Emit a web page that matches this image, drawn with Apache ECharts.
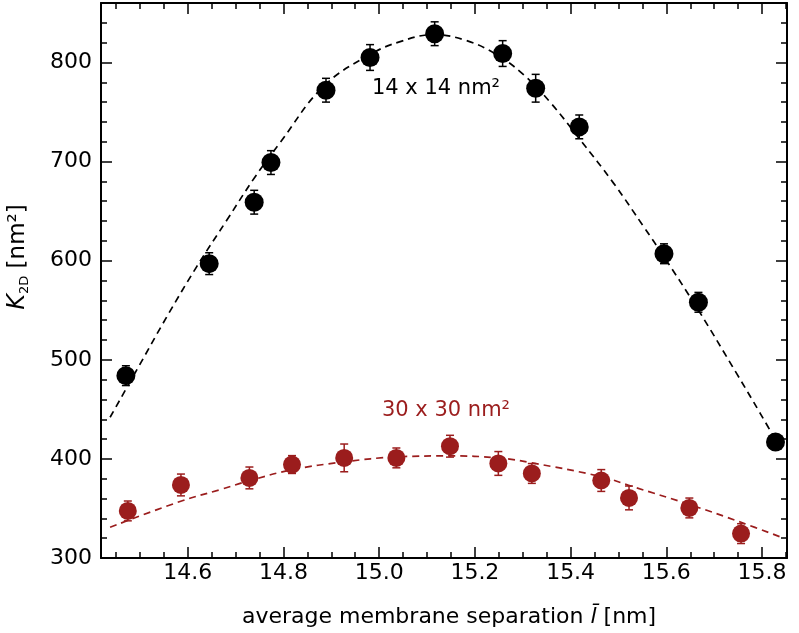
<!DOCTYPE html>
<html><head><meta charset="utf-8">
<script src="https://cdn.jsdelivr.net/npm/echarts@6/dist/echarts.min.js"></script>
<style>html,body{margin:0;padding:0;background:#fff}#c{width:799px;height:633px}</style>
</head><body><div id="c"></div>
<script>
// ---- data ----
const blackX   = [14.471, 14.645, 14.739, 14.774, 14.889, 14.981, 15.116, 15.258, 15.327, 15.418, 15.595, 15.667, 15.828];
const blackY   = [484, 597, 659, 699, 772, 805, 829, 809, 774, 735, 607, 558, 417];
const blackErr = [10, 11, 12, 12, 12, 13, 12, 13, 14, 12, 10, 10, 5];

const redX   = [14.475, 14.586, 14.729, 14.818, 14.927, 15.036, 15.148, 15.249, 15.319, 15.464, 15.522, 15.648, 15.756];
const redY   = [347.5, 373.7, 380.8, 394.3, 401, 401, 412.8, 395.4, 385.3, 378.2, 360.6, 350.5, 324.6];
const redErr = [10, 11, 11, 9, 14, 10, 11, 12, 10, 11, 12, 10, 10];

const blackFitX = [14.438, 14.494, 14.556, 14.619, 14.682, 14.740, 14.793, 14.884, 14.981, 15.044, 15.113, 15.183, 15.245, 15.301, 15.357, 15.420, 15.490, 15.553, 15.595, 15.667, 15.747, 15.796, 15.845];
const blackFitY = [442, 490, 543, 594, 641, 684, 719, 776, 808, 821, 828, 822, 808, 788, 760, 722, 678, 634, 604, 550, 486, 446, 405];

const redFitX = [14.438, 14.584, 14.668, 14.729, 14.818, 14.927, 15.037, 15.148, 15.249, 15.319, 15.464, 15.530, 15.648, 15.756, 15.845];
const redFitY = [331, 357, 369, 378, 389, 397, 402, 403, 401, 396, 382, 372, 354, 336, 320];

const xMajorTicks = [14.6, 14.8, 15.0, 15.2, 15.4, 15.6, 15.8];
const xMinorTicks = [14.45, 14.5, 14.55, 14.65, 14.7, 14.75, 14.85, 14.9, 14.95, 15.05, 15.1, 15.15, 15.25, 15.3, 15.35, 15.45, 15.5, 15.55, 15.65, 15.7, 15.75, 15.85];
const yMajorTicks = [300, 400, 500, 600, 700, 800];
const yMinorTicks = [320, 340, 360, 380, 420, 440, 460, 480, 520, 540, 560, 580, 620, 640, 660, 680, 720, 740, 760, 780, 820, 840];

const X_MIN = 14.419, X_MAX = 15.852, Y_MIN = 300, Y_MAX = 860;
const BLACK = '#000000', RED = '#9b1d1d';
const FONT = 'DejaVu Sans';

function xAx(pos, vals, len, showLabel, showLine) {
  return {
    type: 'value', position: pos, min: X_MIN, max: X_MAX, gridIndex: 0,
    axisLine: { show: showLine, onZero: false, lineStyle: { color: '#000', width: 2 } },
    axisTick: { show: true, inside: true, length: len, customValues: vals, lineStyle: { color: '#000', width: 1.5 } },
    axisLabel: { show: showLabel, customValues: vals, margin: 4, color: '#000', fontFamily: FONT, fontSize: 22,
      formatter: v => Number(v).toFixed(1) },
    splitLine: { show: false }
  };
}
function yAx(pos, vals, len, showLabel, showLine) {
  return {
    type: 'value', position: pos, min: Y_MIN, max: Y_MAX, gridIndex: 0,
    axisLine: { show: showLine, onZero: false, lineStyle: { color: '#000', width: 2 } },
    axisTick: { show: true, inside: true, length: len, customValues: vals, lineStyle: { color: '#000', width: 1.5 } },
    axisLabel: { show: showLabel, customValues: vals, margin: 9, color: '#000', fontFamily: FONT, fontSize: 22,
      formatter: v => String(Math.round(v)) },
    splitLine: { show: false }
  };
}

function errSeries(xs, ys, es, color) {
  return {
    type: 'custom', xAxisIndex: 0, yAxisIndex: 0, z: 3,
    data: xs.map((x, i) => [x, ys[i], es[i]]),
    renderItem: function (params, api) {
      const x = api.value(0), y = api.value(1), e = api.value(2);
      const t = api.coord([x, y + e]), b = api.coord([x, y - e]);
      const hw = 4;
      const st = { stroke: color, lineWidth: 1.5 };
      return { type: 'group', children: [
        { type: 'line', shape: { x1: t[0], y1: t[1], x2: b[0], y2: b[1] }, style: st },
        { type: 'line', shape: { x1: t[0] - hw, y1: t[1], x2: t[0] + hw, y2: t[1] }, style: st },
        { type: 'line', shape: { x1: b[0] - hw, y1: b[1], x2: b[0] + hw, y2: b[1] }, style: st }
      ]};
    }
  };
}

const chart = echarts.init(document.getElementById('c'), null, { renderer: 'canvas' });
chart.setOption({
  backgroundColor: '#fff',
  animation: false,
  grid: { left: 101, right: 12, top: 3, bottom: 75, containLabel: false },
  xAxis: [
    xAx('bottom', xMajorTicks, 11, true, true),
    xAx('bottom', xMinorTicks, 6, false, false),
    xAx('top', xMajorTicks, 11, false, true),
    xAx('top', xMinorTicks, 6, false, false)
  ],
  yAxis: [
    yAx('left', yMajorTicks, 11, true, true),
    yAx('left', yMinorTicks, 6, false, false),
    yAx('right', yMajorTicks, 11, false, true),
    yAx('right', yMinorTicks, 6, false, false)
  ],
  series: [
    { type: 'line', xAxisIndex: 0, yAxisIndex: 0, data: blackFitX.map((x, i) => [x, blackFitY[i]]),
      smooth: 0.4, symbol: 'none', lineStyle: { color: BLACK, width: 1.7, type: [7, 5] }, z: 2 },
    { type: 'line', xAxisIndex: 0, yAxisIndex: 0, data: redFitX.map((x, i) => [x, redFitY[i]]),
      smooth: 0.4, symbol: 'none', lineStyle: { color: RED, width: 1.7, type: [7, 5] }, z: 2 },
    errSeries(blackX, blackY, blackErr, BLACK),
    errSeries(redX, redY, redErr, RED),
    { type: 'scatter', xAxisIndex: 0, yAxisIndex: 0, data: blackX.map((x, i) => [x, blackY[i]]),
      symbol: 'circle', symbolSize: 19, itemStyle: { color: BLACK, opacity: 1 }, z: 4 },
    { type: 'scatter', xAxisIndex: 0, yAxisIndex: 0, data: redX.map((x, i) => [x, redY[i]]),
      symbol: 'circle', symbolSize: 18, itemStyle: { color: RED, opacity: 1 }, z: 4 }
  ],
  graphic: [
    { type: 'text', x: 436, y: 89, z: 10,
      style: { text: '14 x 14 nm²', fill: BLACK, font: '21px "DejaVu Sans"', align: 'center', verticalAlign: 'middle' } },
    { type: 'text', x: 446, y: 411, z: 10,
      style: { text: '30 x 30 nm²', fill: RED, font: '21px "DejaVu Sans"', align: 'center', verticalAlign: 'middle' } },
    { type: 'text', x: 449, y: 617, z: 10,
      style: { text: '{t|average membrane separation }{i|l\u0304}{t| [nm]}', align: 'center', verticalAlign: 'middle',
        rich: { t: { fontFamily: FONT, fontSize: 22, fill: '#000' },
                i: { fontFamily: FONT, fontSize: 22, fontStyle: 'italic', fill: '#000' } } } },
    { type: 'text', x: 18, y: 257, rotation: Math.PI / 2, z: 10,
      style: { text: '{k|K}{s|2D}{t| [nm²]}', align: 'center', verticalAlign: 'middle',
        rich: { k: { fontFamily: FONT, fontSize: 24, fontStyle: 'italic', fill: '#000', lineHeight: 24 },
                s: { fontFamily: FONT, fontSize: 13, fill: '#000', verticalAlign: 'top', padding: [12, 0, 0, 0], lineHeight: 13 },
                t: { fontFamily: FONT, fontSize: 23, fill: '#000', lineHeight: 24 } } } }
  ]
});
</script>
</body></html>
